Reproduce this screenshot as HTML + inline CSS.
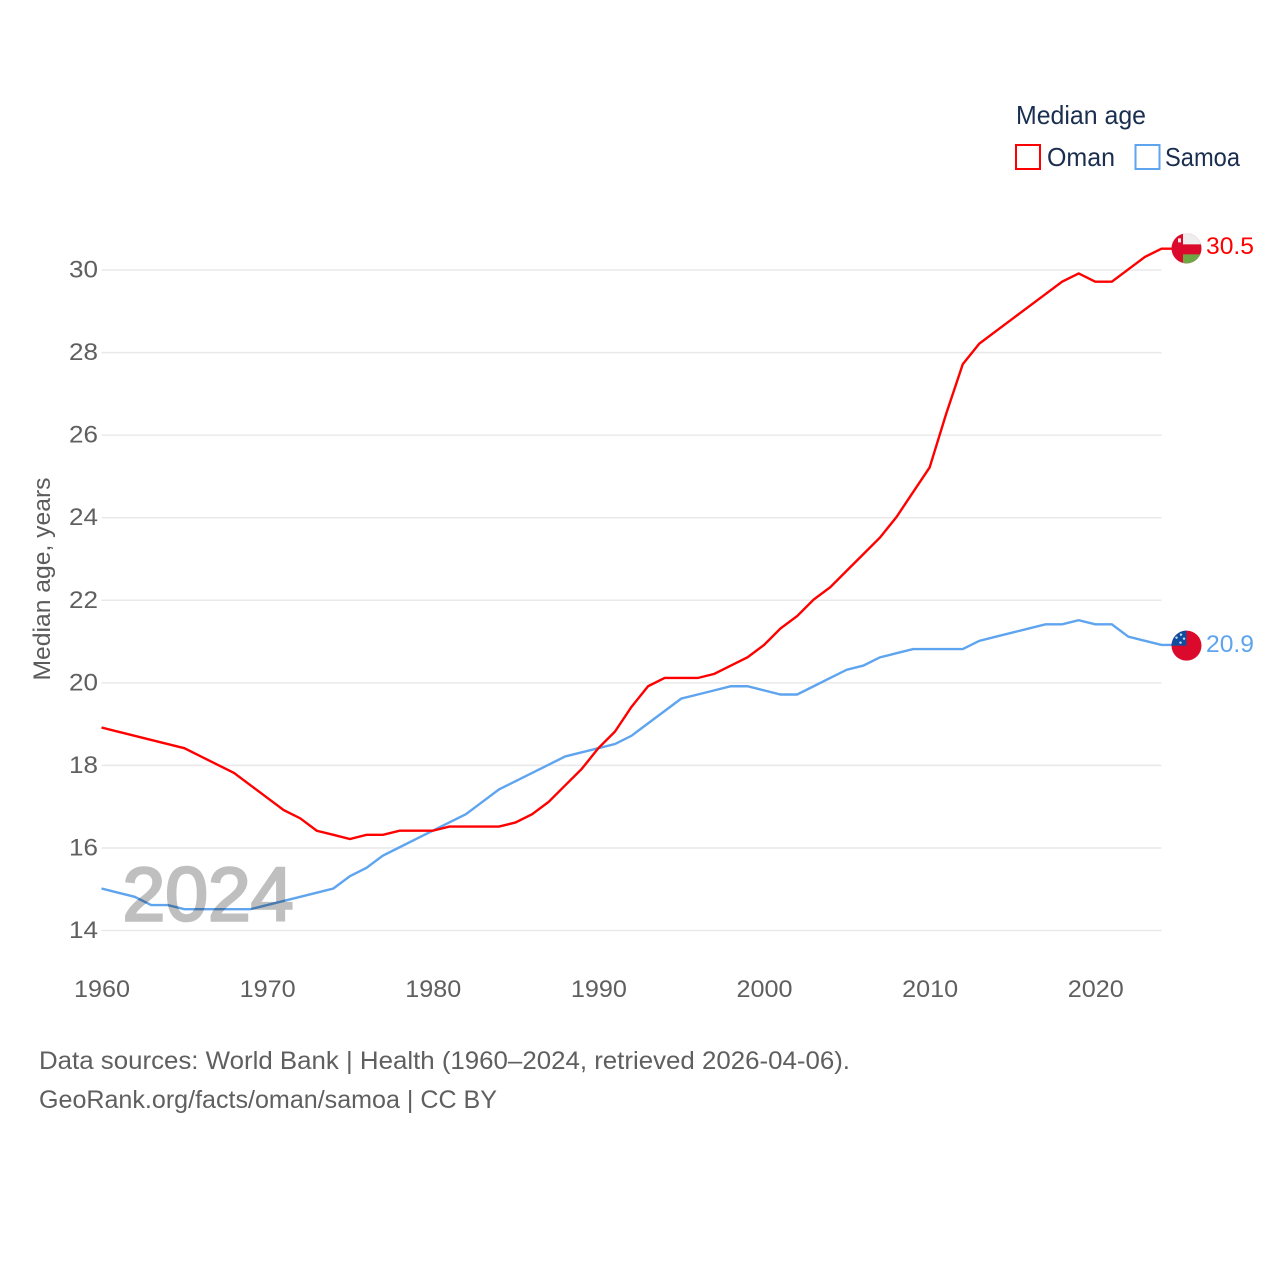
<!DOCTYPE html>
<html lang="en">
<head>
<meta charset="utf-8">
<title>Median age: Oman and Samoa</title>
<style>
html,body{margin:0;padding:0;background:#fff;width:1280px;height:1280px;overflow:hidden}
svg{display:block}
text{font-family:"Liberation Sans",sans-serif}
</style>
</head>
<body>
<svg id="chart" xmlns="http://www.w3.org/2000/svg" width="1280" height="1280" viewBox="0 0 1280 1280">
  <defs>
    <clipPath id="flag-clip"><circle cx="0" cy="0" r="15"/></clipPath>
  </defs>
  <g id="grid"></g>
  <g id="yticks"></g>
  <g id="xticks"></g>
  <text transform="translate(50,579) rotate(-90)" font-size="24" fill="#5b5b5b" text-anchor="middle" textLength="203" lengthAdjust="spacingAndGlyphs">Median age, years</text>
  <g id="series" transform="translate(0,-0.7)"></g>
  <text x="208" y="920.5" font-size="76" font-weight="400" fill="#bfbfbf" stroke="#bfbfbf" stroke-width="2.6" text-anchor="middle" textLength="171" lengthAdjust="spacingAndGlyphs" style="mix-blend-mode:multiply">2024</text>
  <g id="flag-oman">
    <g clip-path="url(#flag-clip)">
      <rect x="-16" y="-16" width="32" height="32" fill="#db0a2c"/>
      <rect x="-3.5" y="-16" width="20" height="12" fill="#eeeeee"/>
      <rect x="-3.5" y="6" width="20" height="10" fill="#6ea844"/>
      <rect x="-8.5" y="-10" width="3" height="4" fill="#f3e6e6"/>
    </g>
  </g>
  <g id="flag-samoa">
    <g clip-path="url(#flag-clip)">
      <rect x="-16" y="-16" width="32" height="32" fill="#db0a2c"/>
      <rect x="-16" y="-16" width="16" height="16" fill="#114d9e"/>
      <circle cx="-5.5" cy="-11" r="1.2" fill="#cfe0f5"/>
      <circle cx="-10" cy="-8" r="1.2" fill="#cfe0f5"/>
      <circle cx="-2.5" cy="-7" r="1.2" fill="#cfe0f5"/>
      <circle cx="-6" cy="-3" r="1.2" fill="#cfe0f5"/>
    </g>
  </g>
  <text id="label-oman" x="1206" font-size="24.5" fill="#ff0000" textLength="48" lengthAdjust="spacingAndGlyphs"></text>
  <text id="label-samoa" x="1206" font-size="24.5" fill="#5ea4ee" textLength="48" lengthAdjust="spacingAndGlyphs"></text>

  <g>
    <text x="1016" y="124" font-size="26" fill="#1a2e50" textLength="130" lengthAdjust="spacingAndGlyphs">Median age</text>
    <rect x="1016" y="145" width="24" height="24" fill="none" stroke="#ff0000" stroke-width="2"/>
    <text x="1047" y="166" font-size="26" fill="#1a2e50" textLength="68" lengthAdjust="spacingAndGlyphs">Oman</text>
    <rect x="1135.5" y="145" width="24" height="24" fill="none" stroke="#5ea4ee" stroke-width="2"/>
    <text x="1165" y="166" font-size="26" fill="#1a2e50" textLength="75" lengthAdjust="spacingAndGlyphs">Samoa</text>
  </g>

  <text x="39" y="1069" font-size="25" fill="#5f5f5f" textLength="811" lengthAdjust="spacingAndGlyphs">Data sources: World Bank | Health (1960–2024, retrieved 2026-04-06).</text>
  <text x="39" y="1108" font-size="25" fill="#5f5f5f" textLength="458" lengthAdjust="spacingAndGlyphs">GeoRank.org/facts/oman/samoa | CC BY</text>
</svg>
<script>
const startYear = 1960;
const yTicks = [14, 16, 18, 20, 22, 24, 26, 28, 30];
const xTicks = [1960, 1970, 1980, 1990, 2000, 2010, 2020];
const omanValues = [18.9,18.8,18.7,18.6,18.5,18.4,18.2,18.0,17.8,17.5,17.2,16.9,16.7,16.4,16.3,16.2,16.3,16.3,16.4,16.4,16.4,16.5,16.5,16.5,16.5,16.6,16.8,17.1,17.5,17.9,18.4,18.8,19.4,19.9,20.1,20.1,20.1,20.2,20.4,20.6,20.9,21.3,21.6,22.0,22.3,22.7,23.1,23.5,24.0,24.6,25.2,26.5,27.7,28.2,28.5,28.8,29.1,29.4,29.7,29.9,29.7,29.7,30.0,30.3,30.5];
const samoaValues = [15.0,14.9,14.8,14.6,14.6,14.5,14.5,14.5,14.5,14.5,14.6,14.7,14.8,14.9,15.0,15.3,15.5,15.8,16.0,16.2,16.4,16.6,16.8,17.1,17.4,17.6,17.8,18.0,18.2,18.3,18.4,18.5,18.7,19.0,19.3,19.6,19.7,19.8,19.9,19.9,19.8,19.7,19.7,19.9,20.1,20.3,20.4,20.6,20.7,20.8,20.8,20.8,20.8,21.0,21.1,21.2,21.3,21.4,21.4,21.5,21.4,21.4,21.1,21.0,20.9];

const NS = 'http://www.w3.org/2000/svg';
const FLAG_X = 1186.5;
function xScale(year) { return 101.5 + (year - 1960) * (1161.5 - 101.5) / 64; }
function yScale(v) { return 930.5 - (v - 14) * (930.5 - 270) / 16; }

const grid = document.getElementById('grid');
const yG = document.getElementById('yticks');
const xG = document.getElementById('xticks');
const seriesG = document.getElementById('series');

yTicks.forEach(function (t) {
  const line = document.createElementNS(NS, 'line');
  
  
  line.setAttribute('x1', 101.5);
  line.setAttribute('x2', 1161.5);
  line.setAttribute('y1', yScale(t));
  line.setAttribute('y2', yScale(t));
  line.setAttribute('stroke', '#e9e9e9');
  line.setAttribute('stroke-width', '1.5');
  grid.appendChild(line);

  const label = document.createElementNS(NS, 'text');
  
  
  label.setAttribute('x', 98);
  label.setAttribute('y', yScale(t) + 7.5);
  label.setAttribute('text-anchor', 'end');
  label.setAttribute('font-size', '24.5');
  label.setAttribute('fill', '#5f5f5f');
  label.setAttribute('textLength', '29');
  label.setAttribute('lengthAdjust', 'spacingAndGlyphs');
  label.textContent = t;
  yG.appendChild(label);
});

xTicks.forEach(function (t) {
  const label = document.createElementNS(NS, 'text');
  
  
  label.setAttribute('x', xScale(t) + 0.5);
  label.setAttribute('y', 997);
  label.setAttribute('text-anchor', 'middle');
  label.setAttribute('font-size', '24.5');
  label.setAttribute('fill', '#5f5f5f');
  label.setAttribute('textLength', '56');
  label.setAttribute('lengthAdjust', 'spacingAndGlyphs');
  label.textContent = t;
  xG.appendChild(label);
});

function linePoints(values) {
  const pts = values.map(function (v, i) {
    return xScale(startYear + i).toFixed(2) + ',' + yScale(v).toFixed(2);
  });
  pts.push(FLAG_X.toFixed(2) + ',' + yScale(values[values.length - 1]).toFixed(2));
  return pts.join(' ');
}

const samoaLine = document.createElementNS(NS, 'polyline');


samoaLine.setAttribute('points', linePoints(samoaValues));
samoaLine.setAttribute('fill', 'none');
samoaLine.setAttribute('stroke', '#5ea4ee');
samoaLine.setAttribute('stroke-width', '2.4');
seriesG.appendChild(samoaLine);

const omanLine = document.createElementNS(NS, 'polyline');


omanLine.setAttribute('points', linePoints(omanValues));
omanLine.setAttribute('fill', 'none');
omanLine.setAttribute('stroke', '#ff0000');
omanLine.setAttribute('stroke-width', '2.4');
seriesG.appendChild(omanLine);

const omanEnd = omanValues[omanValues.length - 1];
const samoaEnd = samoaValues[samoaValues.length - 1];
document.getElementById('flag-oman').setAttribute('transform', 'translate(' + FLAG_X + ',' + (yScale(omanEnd) - 1) + ')');
document.getElementById('flag-samoa').setAttribute('transform', 'translate(' + FLAG_X + ',' + yScale(samoaEnd) + ')');
const omanLabel = document.getElementById('label-oman');
omanLabel.setAttribute('y', yScale(omanEnd) + 4.5);
omanLabel.textContent = omanEnd.toFixed(1);
const samoaLabel = document.getElementById('label-samoa');
samoaLabel.setAttribute('y', yScale(samoaEnd) + 6.5);
samoaLabel.textContent = samoaEnd.toFixed(1);
</script>
</body>
</html>
